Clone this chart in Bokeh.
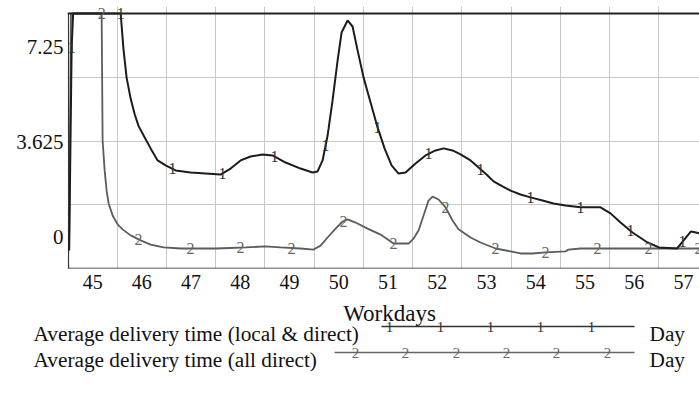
import numpy as np
from bokeh.plotting import figure
from bokeh.models import Range1d, FixedTicker, Span, ColumnDataSource, LabelSet
from bokeh.core.properties import value
from bokeh.embed import file_html
from bokeh.resources import INLINE

# ---------------- data ----------------
days_local = [44.523, 44.574, 44.604, 45.40, 45.569, 45.629, 45.690, 45.772, 45.854, 45.934,
              46.036, 46.178, 46.320, 46.482, 46.685, 46.990, 47.294, 47.599, 47.802, 48.005,
              48.208, 48.452, 48.655, 48.919, 49.223, 49.467, 49.569, 49.670, 49.772, 49.873,
              49.975, 50.056, 50.178, 50.279, 50.381, 50.503, 50.645, 50.787, 50.929, 51.071,
              51.213, 51.355, 51.558, 51.761, 51.964, 52.127, 52.310, 52.472, 52.675, 52.838,
              53.000, 53.142, 53.325, 53.487, 53.690, 53.893, 54.137, 54.360, 54.604, 54.909,
              55.315, 55.518, 55.721, 55.964, 56.269, 56.503, 56.868, 56.970, 57.152, 57.254,
              57.416]
delivery_local = [-0.50, 7.25, 9.60, 9.60, 8.55, 7.14, 6.10, 5.30, 4.70, 4.25,
                  3.89, 3.40, 2.94, 2.75, 2.56, 2.48, 2.44, 2.40, 2.63, 2.94,
                  3.09, 3.17, 3.13, 2.86, 2.63, 2.48, 2.52, 2.94, 3.89, 5.23,
                  6.75, 7.82, 8.28, 8.05, 7.14, 6.10, 5.15, 4.20, 3.40, 2.75,
                  2.44, 2.48, 2.82, 3.13, 3.32, 3.40, 3.32, 3.17, 2.94, 2.67,
                  2.40, 2.14, 1.95, 1.79, 1.64, 1.53, 1.41, 1.30, 1.22, 1.15,
                  1.15, 0.92, 0.57, 0.19, -0.19, -0.38, -0.42, -0.19, 0.23, 0.19,
                  0.11]

days_direct = [44.523, 44.560, 45.150, 45.183, 45.193, 45.203, 45.244, 45.284, 45.325, 45.406,
               45.508, 45.609, 45.772, 45.975, 46.178, 46.442, 46.787, 47.193, 47.497, 47.802,
               48.107, 48.513, 48.817, 49.223, 49.487, 49.629, 49.772, 49.934, 50.076, 50.178,
               50.340, 50.584, 50.848, 51.112, 51.416, 51.518, 51.619, 51.721, 51.822, 51.904,
               52.025, 52.168, 52.310, 52.431, 52.675, 52.878, 53.183, 53.487, 53.690, 53.934,
               54.198, 54.604, 54.665, 54.909, 57.416]
delivery_direct = [-0.46, 9.60, 9.60, 8.70, 6.10, 3.70, 2.56, 1.79, 1.30, 0.84,
                   0.50, 0.31, 0.08, -0.11, -0.27, -0.38, -0.42, -0.42, -0.42, -0.40,
                   -0.38, -0.34, -0.38, -0.42, -0.46, -0.31, 0.00, 0.34, 0.61, 0.69,
                   0.57, 0.34, 0.11, -0.23, -0.23, -0.04, 0.27, 0.84, 1.41, 1.56,
                   1.45, 1.15, 0.65, 0.31, 0.00, -0.19, -0.42, -0.53, -0.61, -0.61,
                   -0.57, -0.53, -0.46, -0.42, -0.42]

# times at which the curve number markers are drawn
marker_days_local = [44.574, 45.569, 46.624, 47.640, 48.695, 49.731, 50.787, 51.822,
                     52.878, 53.893, 54.909, 55.924, 56.980]
marker_days_direct = [45.183, 45.934, 46.990, 48.005, 49.041, 50.096, 51.112, 52.168,
                      53.183, 54.198, 55.254, 56.289, 57.305]

x_tick_days = list(range(45, 58))
y_tick_values = [0, 3.625, 7.25]
y_tick_labels = ["0", "3.625", "7.25"]

series_names = ["Average delivery time (local & direct)", "Average delivery time (all direct)"]
series_labels = ["1", "2"]
series_unit = "Day"
x_title = "Workdays"

# ---------------- styling ----------------
FONT = "Liberation Serif"
C1 = "#1c1c1c"
C2 = "#5c5c5c"
PX_PER_DAY = 49.24
PX_PER_UNIT = 26.21
X0, X1 = 44.51, 57.325          # visible chart box (days)
Y0, Y1 = -1.183, 8.546          # visible chart box (value)
FX0 = X0 - 1.0 / PX_PER_DAY     # frame left 1 px outside box
FY1 = Y1 + 7.0 / PX_PER_UNIT    # frame top 7 px above box, so top markers are not cut

W = 699
H_MAIN = 297
p = figure(width=W, height=H_MAIN, x_range=Range1d(FX0, X1), y_range=Range1d(Y0, FY1),
           output_backend="svg", toolbar_location=None,
           min_border_left=67, min_border_right=0, min_border_top=6,
           min_border_bottom=H_MAIN - 268)
p.outline_line_color = None
p.background_fill_color = "white"
p.border_fill_color = "white"

p.xgrid.ticker = FixedTicker(ticks=[d + 0.5 for d in x_tick_days[:-1]])
p.ygrid.ticker = FixedTicker(ticks=[Y0 + k * (Y1 - Y0) / 4 for k in (1, 2, 3)])
p.grid.grid_line_color = "#c8c8c8"
p.grid.grid_line_width = 1

p.xaxis.ticker = FixedTicker(ticks=x_tick_days)
p.yaxis.ticker = FixedTicker(ticks=y_tick_values)
p.yaxis.major_label_overrides = dict(zip(y_tick_values, y_tick_labels))
for ax in (p.xaxis, p.yaxis):
    ax.axis_line_color = None
    ax.major_tick_line_color = None
    ax.minor_tick_line_color = None
    ax.major_tick_out = 0
    ax.major_tick_in = 0
    ax.major_label_text_font = FONT
    ax.major_label_text_color = "#111111"
p.xaxis.major_label_text_font_size = "20px"
p.yaxis.major_label_text_font_size = "21px"
p.xaxis.major_label_standoff = 6
p.yaxis.major_label_standoff = 4

# chart box
p.add_layout(Span(location=Y1, dimension="width", line_color="#222222", line_width=2))
p.add_layout(Span(location=Y0, dimension="width", line_color="#222222", line_width=1.5))
p.segment(x0=[X0], y0=[Y0], x1=[X0], y1=[Y1], line_color="#333333", line_width=1.2)

p.line(days_direct, np.minimum(delivery_direct, Y1), line_color=C2, line_width=1.8)
p.line(days_local, np.minimum(delivery_local, Y1), line_color=C1, line_width=2)

def marker_set(mdays, days, vals, label, color):
    mv = np.minimum(np.interp(mdays, days, vals), Y1)
    src = ColumnDataSource(dict(x=list(mdays), y=list(mv), t=[label] * len(mdays)))
    return LabelSet(x="x", y="y", text="t", source=src, text_align="center",
                    text_baseline="middle", text_font=value(FONT),
                    text_font_size=value("16px"), text_color=color)

p.add_layout(marker_set(marker_days_direct, days_direct, delivery_direct, series_labels[1], "#666666"))
p.add_layout(marker_set(marker_days_local, days_local, delivery_local, series_labels[0], "#333333"))

# ---------------- axis title + legend strip (page-pixel coordinates) ----------------
H_LEG = 82
lf = figure(width=W, height=H_LEG, x_range=Range1d(0, W), y_range=Range1d(H_MAIN + H_LEG, H_MAIN),
            output_backend="svg", toolbar_location=None, min_border=0,
            x_axis_type=None, y_axis_type=None)
lf.outline_line_color = None
lf.grid.visible = False
lf.background_fill_color = "white"
lf.border_fill_color = "white"

def txt(x, y, s, size, align="left", baseline="alphabetic", color="#111111"):
    lf.text(x=x, y=y, text=s, text_font=value(FONT), text_font_size=size,
            text_align=align, text_baseline=baseline, text_color=color)

txt([389], [313], [x_title], "23px", align="center")

rows = [
    dict(base=333, mid=326, x0=381, marks=[389, 440, 490, 540, 591], lc="#333333"),
    dict(base=359, mid=352, x0=334, marks=[355, 405, 456, 506, 556, 607], lc="#666666"),
]
for name, lab, r in zip(series_names, series_labels, rows):
    txt([33], [r["base"]], [name], "21.3px")
    lf.line(x=[r["x0"], 634], y=[r["mid"], r["mid"]], line_color=r["lc"], line_width=1.5)
    txt(r["marks"], [r["mid"]] * len(r["marks"]), [lab] * len(r["marks"]), "15px",
        align="center", baseline="middle", color=r["lc"])
    txt([649], [r["base"]], [series_unit], "21.3px")

open("out.html", "w").write(file_html([p, lf], INLINE))
